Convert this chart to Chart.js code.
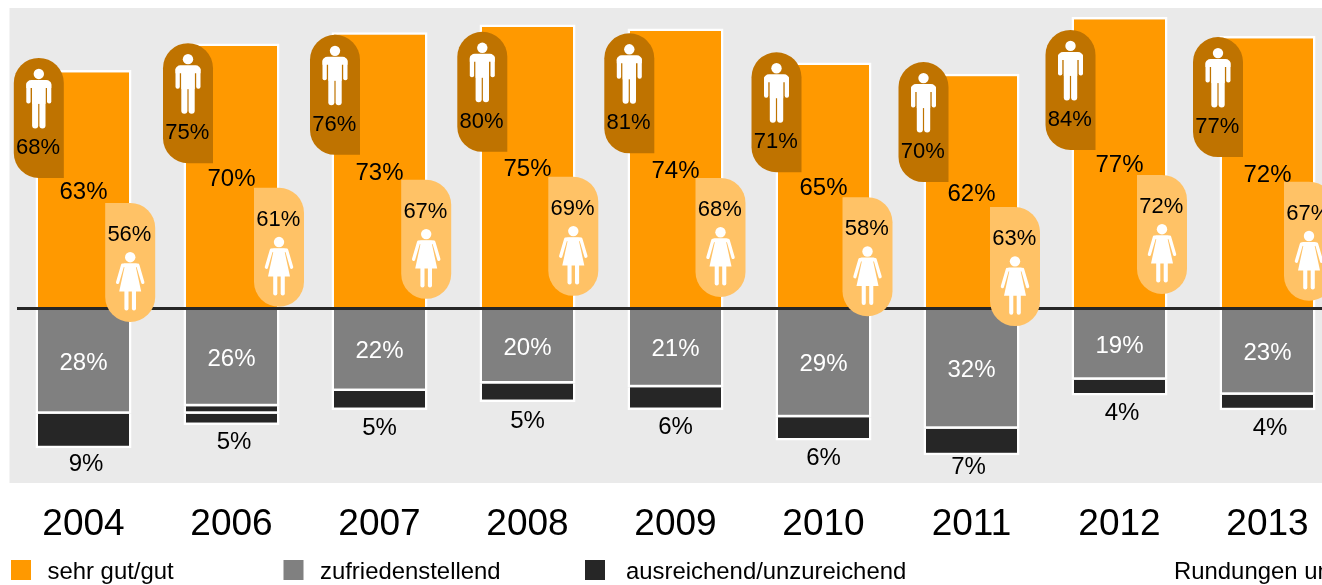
<!DOCTYPE html>
<html lang="de">
<head>
<meta charset="utf-8">
<style>
html,body{margin:0;padding:0;background:#fff;width:1322px;height:585px;overflow:hidden}
#wrap{position:absolute;left:0;top:0;width:1350px;height:585px}
canvas{display:block}
</style>
<script src="https://cdn.jsdelivr.net/npm/chart.js@4"></script>
</head>
<body>
<div id="wrap"><canvas id="c" width="1350" height="585"></canvas></div>
<script>
const years = ['2004','2006','2007','2008','2009','2010','2011','2012','2013'];
const sehrGutGut = [63,70,73,75,74,65,62,77,72];
const zufriedenstellend = [27.8,25.8,21.8,19.8,20.8,28.7,31.8,18.8,22.8];
const ausreichend = [9.1,2,5,4.9,6,6.2,7,4.2,4.1];
const unzureichend2006 = [null,3,null,null,null,null,null,null,null];
const maenner = [68,75,76,80,81,71,70,84,77];
const frauen = [56,61,67,69,68,58,63,72,67];
const maennerLevel = [66.2,70.1,72.3,73.1,72.7,67.7,65.1,73.6,71.7];
const frauenLevel = [27.9,31.9,34,34.8,34.5,29.4,26.8,35.3,33.5];
const legendLabels = ['sehr gut/gut','zufriedenstellend','ausreichend/unzureichend'];
const note = 'Rundungen und';

const FONT = '"Liberation Sans", Arial, sans-serif';
const GOOD='#FF9900', MID='#808080', DARK='#262626', BG='#EAEAEA', MEN='#BF7300', WOMEN='#FFC266';
const menShift=[-44.7,-43.5,-44.5,-45.2,-46.2,-47,-48,-49,-49.5];
const womenShift=[46.7,47.5,46.7,45.8,45,44,43.5,42.5,41.5];

function man(ctx,cx,top){
  ctx.fillStyle='#fff';
  ctx.beginPath(); ctx.arc(cx,top+16,5.2,0,Math.PI*2); ctx.fill();
  const rr=(x,y,w,h,r)=>{ctx.beginPath();ctx.roundRect(cx+x,top+y,w,h,r);ctx.fill();};
  rr(-12.5,22,25,8,[5,5,0,0]);
  rr(-12.5,24,4.3,21.5,2);
  rr(8.2,24,4.3,21.5,2);
  rr(-6.7,24,13.4,22,0);
  rr(-6.7,26,6.1,44.5,[0,0,3,3]);
  rr(0.6,26,6.1,44.5,[0,0,3,3]);
}
function woman(ctx,cx,top){
  ctx.fillStyle='#fff'; ctx.strokeStyle='#fff';
  ctx.beginPath(); ctx.arc(cx,top+54.3,5.2,0,Math.PI*2); ctx.fill();
  ctx.lineWidth=3.3; ctx.lineCap='round';
  [-1,1].forEach(s=>{ctx.beginPath();ctx.moveTo(cx+s*7.6,top+62.4);ctx.lineTo(cx+s*12.6,top+79.5);ctx.stroke();});
  ctx.beginPath();ctx.roundRect(cx-8,top+60.4,16,4,2);ctx.fill();
  ctx.beginPath();
  ctx.moveTo(cx-5,top+61);ctx.lineTo(cx+5,top+61);
  ctx.lineTo(cx+11,top+88.7);ctx.lineTo(cx-11,top+88.7);
  ctx.closePath();ctx.fill();
  [[-5.8,4.1],[1.7,4.1]].forEach(l=>{ctx.beginPath();ctx.roundRect(cx+l[0],top+86,l[1],21.7,[0,0,2,2]);ctx.fill();});
}
const darkShiftX=[2.5,2.5,0,0,0,0,-3,2.5,2.5];
const darkShiftY=[16,17,18,19,17,18,12,18,18];

const painter={
  id:'painter',
  beforeDraw(ch){
    const {ctx,chartArea:a}=ch;
    ctx.save();ctx.fillStyle=BG;ctx.fillRect(a.left,a.top,a.right-a.left,a.bottom-a.top);ctx.restore();
  },
  afterDatasetsDraw(ch){
    const {ctx,scales:{x,y}}=ch;
    ctx.save();
    ctx.fillStyle=DARK;
    ctx.fillRect(17,y.getPixelForValue(0)-1.5,ch.width,3);
    years.forEach((_,i)=>{
      const cx=x.getPixelForValue(i);
      const mx=cx+menShift[i], wx=cx+womenShift[i];
      const mTop=y.getPixelForValue(maennerLevel[i]), wTop=y.getPixelForValue(frauenLevel[i]);
      ctx.fillStyle=MEN;ctx.beginPath();ctx.roundRect(mx-25,mTop,50,120,[25,25,0,25]);ctx.fill();
      man(ctx,mx,mTop);
      ctx.fillStyle=WOMEN;ctx.beginPath();ctx.roundRect(wx-25,wTop,50,119,[0,25,25,25]);ctx.fill();
      woman(ctx,wx,wTop);
    });
    ctx.textAlign='center';ctx.textBaseline='middle';
    years.forEach((_,i)=>{
      const cx=x.getPixelForValue(i);
      const mx=cx+menShift[i], wx=cx+womenShift[i];
      const mTop=y.getPixelForValue(maennerLevel[i]), wTop=y.getPixelForValue(frauenLevel[i]);
      ctx.font='22px '+FONT;ctx.fillStyle='#000';
      ctx.fillText(maenner[i]+'%',mx-0.8,mTop+90);
      ctx.fillText(frauen[i]+'%',wx-0.8,wTop+32);
      ctx.font='24px '+FONT;
      const g0=y.getPixelForValue(sehrGutGut[i]), z=y.getPixelForValue(0);
      ctx.fillText(sehrGutGut[i]+'%',cx,(g0+z)/2+3);
      const m1=y.getPixelForValue(-zufriedenstellend[i]);
      ctx.fillStyle='#fff';
      ctx.fillText(Math.round(zufriedenstellend[i])+'%',cx,(z+m1)/2+2);
      const dTotal=ausreichend[i]+(unzureichend2006[i]||0);
      const d1=y.getPixelForValue(-zufriedenstellend[i]-dTotal);
      ctx.fillStyle='#000';
      ctx.fillText(Math.round(dTotal)+'%',cx+darkShiftX[i],d1+darkShiftY[i]);
    });
    ctx.restore();
  },
  afterDraw(ch){
    const ctx=ch.ctx;
    ctx.save();
    ctx.textBaseline='middle';ctx.textAlign='left';ctx.font='23.9px '+FONT;
    const boxes=[11,283.5,585], texts=[47.5,320,626], cols=[GOOD,MID,DARK];
    legendLabels.forEach((l,i)=>{
      ctx.fillStyle=cols[i];ctx.fillRect(boxes[i],560,20,20);
      ctx.fillStyle='#000';ctx.fillText(l,texts[i],572);
    });
    ctx.fillText(note,1174,572);
    ctx.restore();
  }
};

new Chart(document.getElementById('c'),{
  type:'bar',
  data:{labels:years,datasets:[
    {label:legendLabels[0],data:sehrGutGut,backgroundColor:GOOD},
    {label:legendLabels[1],data:zufriedenstellend.map(v=>-v),backgroundColor:MID},
    {label:legendLabels[2],data:ausreichend.map(v=>-v),backgroundColor:DARK},
    {label:'unzureichend',data:unzureichend2006.map(v=>v===null?null:-v),backgroundColor:DARK}
  ]},
  options:{
    responsive:false,animation:false,
    layout:{padding:{left:9.5,right:8.5,top:8,bottom:0}},
    datasets:{bar:{borderColor:'#fff',borderWidth:2.5,barPercentage:96/148,categoryPercentage:1}},
    plugins:{legend:{display:false},tooltip:{enabled:false},title:{display:false}},
    scales:{
      x:{stacked:true,grid:{display:false},border:{display:false},
         ticks:{font:{family:FONT,size:37},color:'#000',padding:12,maxRotation:0,autoSkip:false},
         afterFit(s){s.height=102;}},
      y:{stacked:true,display:false,min:-46.1,max:79.39}
    }
  },
  plugins:[painter]
});
</script>
</body>
</html>
